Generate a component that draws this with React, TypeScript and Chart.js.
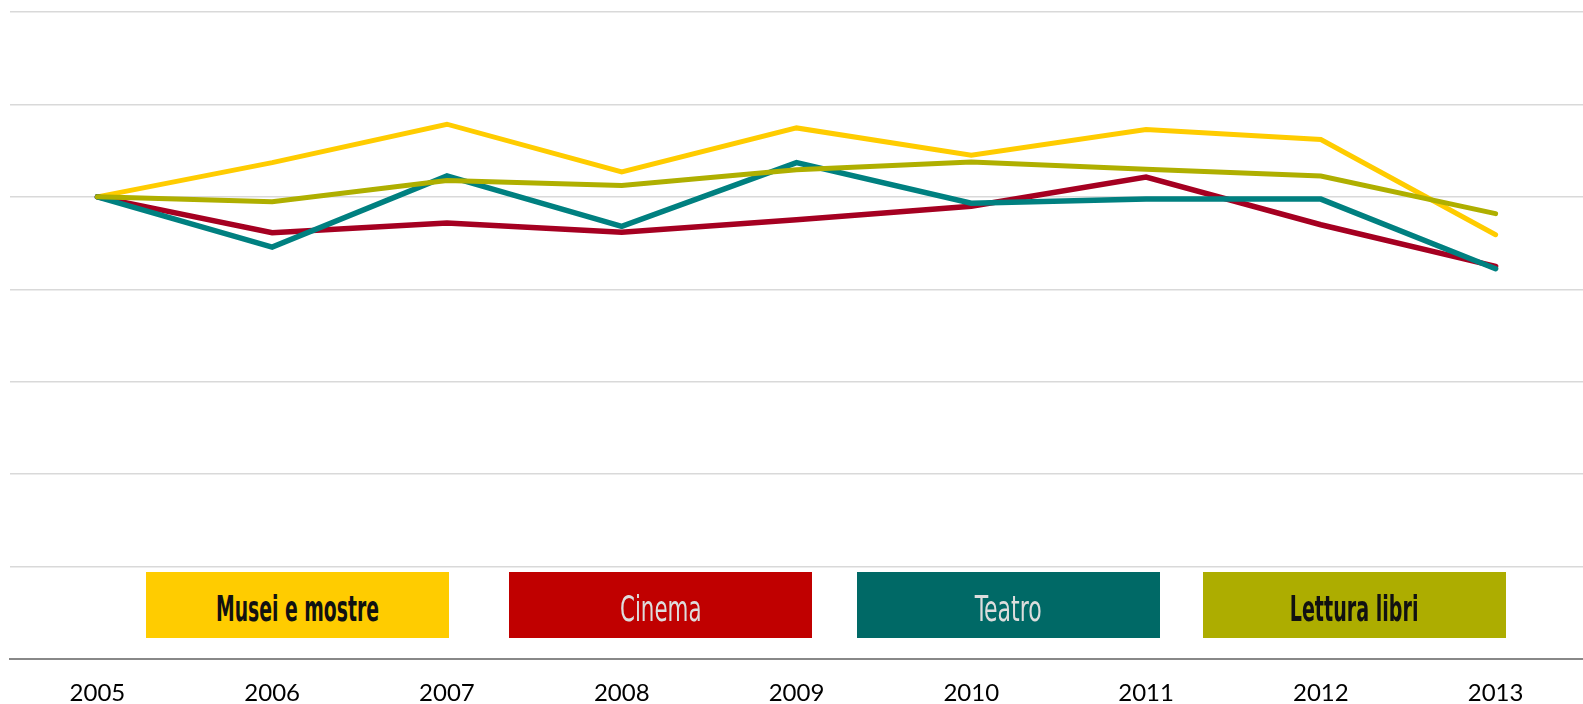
import React, { useEffect, useRef } from "react";
import { Chart, registerables } from "chart.js";

Chart.register(...registerables);

const years = ["2005", "2006", "2007", "2008", "2009", "2010", "2011", "2012", "2013"];
const musei = [100, 101.85, 103.93, 101.35, 103.73, 102.25, 103.64, 103.1, 97.95];
const cinema = [100, 98.06, 98.58, 98.09, 98.76, 99.49, 101.07, 98.49, 96.24];
const teatro = [100, 97.28, 101.13, 98.4, 101.85, 99.66, 99.88, 99.88, 96.11];
const lettura = [100, 99.74, 100.88, 100.62, 101.47, 101.89, 101.49, 101.13, 99.09];

const yMin = 75;
const yMax = 110;
const yStep = 5;

const legendItems = [
  { label: "Musei e mostre", bg: "#FFCC00", color: "#111111", weight: "bold", left: 146, sx: 0.58 },
  { label: "Cinema", bg: "#C00000", color: "#DDDDDD", weight: "normal", left: 509, sx: 0.66 },
  { label: "Teatro", bg: "#006966", color: "#DDDDDD", weight: "normal", left: 857, sx: 0.68 },
  { label: "Lettura libri", bg: "#ADAD00", color: "#111111", weight: "bold", left: 1203, sx: 0.59 },
];

export default function App() {
  const ref = useRef<HTMLCanvasElement | null>(null);

  useEffect(() => {
    document.body.style.margin = "0";
    const ctx = ref.current;
    if (!ctx) return;
    const chart = new Chart(ctx, {
      type: "line",
      data: {
        labels: years,
        datasets: [
          { label: "Lettura libri", data: lettura, borderColor: "#AFAF00", borderWidth: 5 },
          { label: "Teatro", data: teatro, borderColor: "#008080", borderWidth: 5.5 },
          { label: "Cinema", data: cinema, borderColor: "#A50021", borderWidth: 5.5 },
          { label: "Musei e mostre", data: musei, borderColor: "#FFCC00", borderWidth: 5 },
        ].map((d) => ({
          ...d,
          pointRadius: 0,
          tension: 0,
          fill: false,
          borderCapStyle: "round" as const,
        })),
      },
      options: {
        animation: false,
        responsive: false,
        maintainAspectRatio: false,
        layout: { padding: { left: 10, right: 0, top: 12, bottom: 0 } },
        plugins: { legend: { display: false }, tooltip: { enabled: false } },
        scales: {
          x: {
            offset: true,
            afterFit: (axis: any) => {
              axis.height = 45;
            },
            grid: { display: false, drawTicks: false },
            border: { display: true, color: "#888888", width: 2 },
            ticks: {
              color: "#000000",
              font: { family: "Lato", size: 24, lineHeight: 1 },
              padding: 22,
              maxRotation: 0,
            },
          },
          y: {
            min: yMin,
            max: yMax,
            afterFit: (axis: any) => {
              axis.width = 0;
            },
            ticks: { stepSize: yStep, display: false },
            grid: { color: "#D9D9D9", lineWidth: 1.5, drawTicks: false },
            border: { display: false },
          },
        },
      },
    });
    return () => chart.destroy();
  }, []);

  return (
    <div style={{ position: "absolute", left: 0, top: 0, width: 1583, height: 704, background: "#fff" }}>
      <canvas ref={ref} width={1583} height={704} style={{ display: "block" }} />
      {legendItems.map((it) => (
        <div
          key={it.label}
          style={{
            position: "absolute",
            left: it.left,
            top: 572,
            width: 303,
            height: 66,
            background: it.bg,
            display: "flex",
            alignItems: "center",
            justifyContent: "center",
            overflow: "hidden",
          }}
        >
          <span
            style={{
              fontFamily: "'DejaVu Sans Condensed', sans-serif",
              fontWeight: it.weight as any,
              fontSize: 36,
              color: it.color,
              transform: `scaleX(${it.sx})`,
              whiteSpace: "nowrap",
              display: "inline-block",
              marginTop: 6,
            }}
          >
            {it.label}
          </span>
        </div>
      ))}
    </div>
  );
}
